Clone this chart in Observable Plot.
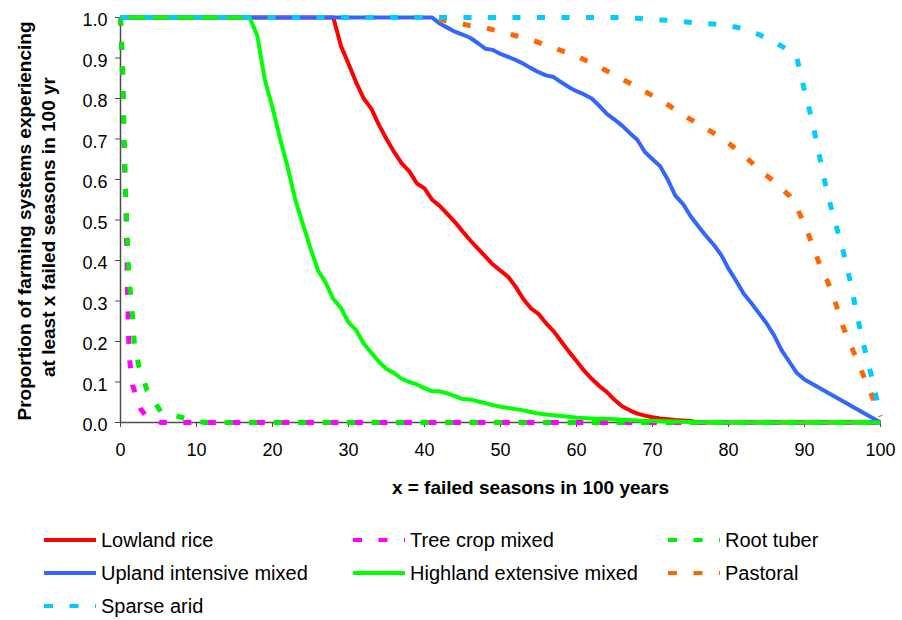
<!DOCTYPE html>
<html>
<head>
<meta charset="utf-8">
<script src="https://cdn.jsdelivr.net/npm/d3@7"></script>
<script src="https://cdn.jsdelivr.net/npm/@observablehq/plot@0.6"></script>
<style>
  body { margin: 0; background: #fff; font-family: "Liberation Sans", Arial, sans-serif; }
  #wrap { position: relative; width: 902px; height: 620px; overflow: hidden; }
  .lg { position: absolute; display: flex; align-items: center; height: 24px; font-size: 20px; color: #000; white-space: nowrap; }
  .lg svg { margin-right: 5px; }
</style>
</head>
<body>
<div id="wrap"></div>
<script>
// ---- Data ----
const seriesNames = ["Lowland rice", "Tree crop mixed", "Root tuber", "Upland intensive mixed",
  "Highland extensive mixed", "Pastoral", "Sparse arid"];

const xTicks = [0, 10, 20, 30, 40, 50, 60, 70, 80, 90, 100];
const yTicks = [0, 0.1, 0.2, 0.3, 0.4, 0.5, 0.6, 0.7, 0.8, 0.9, 1.0];

const lowlandRiceX = [0, 28, 29, 30, 31, 32, 33, 34, 35, 36, 37, 38, 39, 40, 41, 42, 43, 44, 45, 46, 47, 48, 49, 50,
  51, 52, 53, 54, 55, 56, 57, 58, 59, 60, 61, 62, 63, 64, 65, 66, 67, 68, 69, 70, 71, 72, 73, 74, 75, 76, 100];
const lowlandRiceY = [1, 1, 0.93, 0.886, 0.84, 0.80, 0.775, 0.735, 0.70, 0.668, 0.64, 0.62, 0.59, 0.578, 0.55, 0.535,
  0.515, 0.495, 0.472, 0.45, 0.43, 0.41, 0.39, 0.375, 0.36, 0.335, 0.305, 0.282, 0.268, 0.245, 0.225, 0.2, 0.175,
  0.152, 0.128, 0.108, 0.09, 0.075, 0.056, 0.04, 0.03, 0.022, 0.017, 0.013, 0.01, 0.008, 0.006, 0.005, 0.004, 0, 0];

const treeCropX = [0, 0.25, 0.4, 0.5, 0.65, 0.75, 0.85, 0.95, 1.05, 1.2, 1.6, 2.6, 3.5, 5.3, 100];
const treeCropY = [1, 0.87, 0.74, 0.65, 0.58, 0.5, 0.4, 0.3, 0.22, 0.153, 0.091, 0.035, 0.012, 0, 0];

const rootTuberX = [0, 0.3, 0.5, 0.65, 0.8, 1.05, 1.3, 1.6, 1.8, 2.4, 3.5, 5.3, 8.6, 11, 100];
const rootTuberY = [1, 0.87, 0.69, 0.57, 0.506, 0.383, 0.321, 0.26, 0.2, 0.14, 0.079, 0.027, 0.01, 0, 0];

const uplandX = [0, 41, 42, 43, 44, 45, 46, 47, 48, 49, 50, 51, 52, 53, 54, 55, 56, 57, 58, 59, 60, 61, 62, 63, 64,
  65, 66, 67, 68, 69, 70, 71, 72, 73, 74, 75, 76, 77, 78, 79, 80, 81, 82, 83, 84, 85, 86, 87, 88, 89, 90, 100];
const uplandY = [1, 1, 0.985, 0.975, 0.965, 0.958, 0.95, 0.937, 0.923, 0.92, 0.91, 0.903, 0.895, 0.886, 0.875, 0.865,
  0.857, 0.853, 0.84, 0.828, 0.818, 0.81, 0.8, 0.782, 0.762, 0.748, 0.733, 0.715, 0.698, 0.668, 0.65, 0.633, 0.6,
  0.56, 0.54, 0.51, 0.485, 0.462, 0.44, 0.415, 0.38, 0.35, 0.318, 0.295, 0.27, 0.245, 0.215, 0.178, 0.15, 0.122,
  0.106, 0];

const highlandX = [0, 17, 18, 19, 20, 21, 22, 23, 24, 25, 26, 27, 28, 29, 30, 31, 32, 33, 34, 35, 36, 37, 38, 39, 40,
  41, 42, 43, 44, 45, 46, 47, 48, 49, 50, 51, 52, 53, 54, 55, 56, 57, 58, 59, 60, 62, 64, 66, 68, 70, 72, 75, 78, 100];
const highlandY = [1, 1, 0.955, 0.845, 0.778, 0.70, 0.63, 0.55, 0.49, 0.43, 0.375, 0.345, 0.305, 0.283, 0.247, 0.228,
  0.195, 0.172, 0.15, 0.132, 0.122, 0.108, 0.1, 0.094, 0.085, 0.077, 0.077, 0.072, 0.065, 0.058, 0.057, 0.052, 0.048,
  0.043, 0.039, 0.036, 0.033, 0.03, 0.026, 0.022, 0.02, 0.018, 0.016, 0.014, 0.012, 0.01, 0.009, 0.007, 0.005, 0.004,
  0.003, 0.001, 0, 0];

const pastoralX = [0, 41, 42, 44, 46, 48, 50, 52, 54, 56, 58, 60, 62, 64, 66, 68, 70, 72, 74, 76, 78, 80, 82, 84, 86,
  88, 89, 90, 91, 92, 93, 94, 95, 96, 97, 98, 99, 100];
const pastoralY = [1, 1, 0.995, 0.988, 0.98, 0.975, 0.965, 0.955, 0.945, 0.932, 0.918, 0.905, 0.887, 0.868, 0.848,
  0.828, 0.807, 0.785, 0.76, 0.737, 0.715, 0.69, 0.66, 0.625, 0.595, 0.56, 0.53, 0.49, 0.44, 0.39, 0.35, 0.3, 0.24,
  0.195, 0.15, 0.105, 0.06, 0.015];

const sparseAridX = [0, 66, 68, 70, 72, 74, 76, 78, 80, 82, 84, 86, 88, 89, 90, 91, 92, 93, 94, 95, 96, 97, 98, 99, 100];
const sparseAridY = [1, 1, 0.998, 0.995, 0.993, 0.99, 0.986, 0.984, 0.98, 0.972, 0.958, 0.94, 0.918, 0.9, 0.82, 0.745,
  0.655, 0.565, 0.497, 0.43, 0.35, 0.257, 0.175, 0.1, 0.015];

const seriesX = [lowlandRiceX, treeCropX, rootTuberX, uplandX, highlandX, pastoralX, sparseAridX];
const seriesY = [lowlandRiceY, treeCropY, rootTuberY, uplandY, highlandY, pastoralY, sparseAridY];

// ---- Styles ----
const colors = ["#ff0000", "#ff00ff", "#00ee00", "#3366ff", "#00ff00", "#ff6600", "#00ccff"];
const dashed = [false, true, true, false, false, true, true];

const rows = seriesNames.map((name, i) => seriesX[i].map((x, j) => ({series: name, x, y: seriesY[i][j]})));

const font = "'Liberation Sans', Arial, sans-serif";

const lineMarks = rows.map((data, i) => Plot.line(data, {
  x: "x", y: "y",
  stroke: colors[i],
  strokeWidth: dashed[i] ? 5 : 4,
  strokeDasharray: dashed[i] ? "8,16.5" : null,
  strokeLinecap: "butt",
  strokeLinejoin: "round"
}));

const chart = Plot.plot({
  width: 902,
  height: 515,
  marginLeft: 120,
  marginRight: 22,
  marginTop: 17,
  marginBottom: 93,
  style: {fontFamily: font, fontSize: "18px", color: "#000", background: "#fff"},
  x: {domain: [0, 100], label: null},
  y: {domain: [0, 1], label: null},
  marks: [
    Plot.ruleY([0], {stroke: "#4d4d4d", strokeWidth: 1.5}),
    Plot.ruleX([0], {stroke: "#4d4d4d", strokeWidth: 1.5}),
    Plot.axisX({ticks: xTicks, tickSize: 5, stroke: "#4d4d4d", fill: "none", label: null}),
    Plot.axisX({ticks: xTicks, tickSize: 5, tickPadding: 16, stroke: "none", fill: "#000", label: null, fontSize: 18}),
    Plot.axisY({ticks: yTicks, tickSize: 5, stroke: "#4d4d4d", fill: "none", label: null}),
    Plot.axisY({ticks: yTicks, tickSize: 5, tickPadding: 8, dy: 3, stroke: "none", fill: "#000", label: null,
      fontSize: 18, tickFormat: d => d.toFixed(1)}),
    ...lineMarks,
    Plot.text(["Proportion of farming systems experiencing"], {frameAnchor: "left", textAnchor: "middle",
      rotate: -90, dx: -96, dy: 1, fontWeight: "bold", fontSize: 19}),
    Plot.text(["at least x failed seasons in 100 yr"], {frameAnchor: "left", textAnchor: "middle",
      rotate: -90, dx: -72, dy: 7, fontWeight: "bold", fontSize: 19}),
    Plot.text(["x = failed seasons in 100 years"], {frameAnchor: "bottom", textAnchor: "middle",
      dx: 30, dy: 71, fontWeight: "bold", fontSize: 19})
  ]
});

const wrap = document.getElementById("wrap");
wrap.appendChild(chart);

// ---- Legend (below the SVG) ----
const legendPos = [
  {left: 44, top: 540}, {left: 353, top: 540}, {left: 668, top: 540},
  {left: 44, top: 573}, {left: 353, top: 573}, {left: 668, top: 573},
  {left: 44, top: 606}
];
seriesNames.forEach((name, i) => {
  const item = document.createElement("div");
  item.className = "lg";
  item.style.left = legendPos[i].left + "px";
  item.style.top = (legendPos[i].top - 12) + "px";
  const ns = "http://www.w3.org/2000/svg";
  const s = document.createElementNS(ns, "svg");
  s.setAttribute("width", 52); s.setAttribute("height", 10);
  const l = document.createElementNS(ns, "line");
  l.setAttribute("x1", 0); l.setAttribute("x2", 52);
  l.setAttribute("y1", 5); l.setAttribute("y2", 5);
  l.setAttribute("stroke", colors[i]);
  l.setAttribute("stroke-width", 4);
  if (dashed[i]) l.setAttribute("stroke-dasharray", "9,16.5");
  s.appendChild(l);
  item.appendChild(s);
  const t = document.createElement("span");
  t.textContent = name;
  item.appendChild(t);
  wrap.appendChild(item);
});
</script>
</body>
</html>
